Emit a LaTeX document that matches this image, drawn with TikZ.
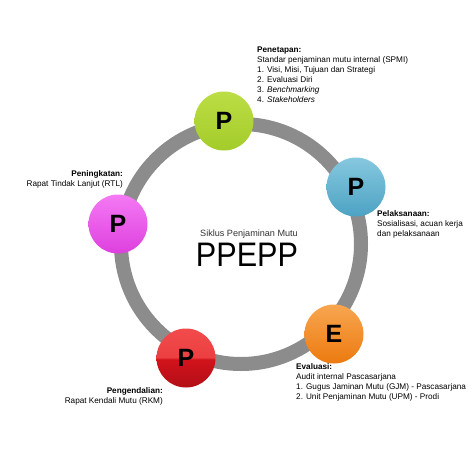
\documentclass[tikz,border=0pt]{standalone}
\usepackage{fontspec}
\setmainfont{Liberation Sans}
\definecolor{ringgray}{HTML}{8C8C8C}
\definecolor{gtop}{HTML}{BCDD45}\definecolor{gbot}{HTML}{A3CC2A}
\definecolor{btop}{HTML}{86C8DF}\definecolor{bbot}{HTML}{4DA2C3}
\definecolor{otop}{HTML}{F8A650}\definecolor{obot}{HTML}{EC7A10}
\definecolor{rtop}{HTML}{F24B4B}\definecolor{rbot}{HTML}{D2121B}
\definecolor{mtop}{HTML}{F47AF4}\definecolor{mbot}{HTML}{DE3FDE}
\pgfdeclareverticalshading{redgloss}{100bp}{color(0bp)=(rbot!85!black); color(25bp)=(rbot!85!black); color(49bp)=(rbot); color(50.5bp)=(rtop!80!rbot); color(75bp)=(rtop); color(100bp)=(rtop)}
\begin{document}
\begin{tikzpicture}[x=1pt,y=-1pt,
  lbl/.style={inner sep=0pt,font=\fontsize{8.2}{10}\selectfont,text=black},
  ball/.style={circle,minimum size=59pt,inner sep=0pt,font=\fontsize{25}{25}\selectfont\bfseries},
]
\useasboundingbox[fill=white] (0,0) rectangle (474,474);
\coordinate (c) at (241,244);
\draw[ringgray,line width=14pt] (c) circle[radius=120];
% balls
\node[ball,top color=gtop,bottom color=gbot] (pen) at (224,121) {P};
\node[ball,top color=btop,bottom color=bbot] (pel) at (356,187) {P};
\node[ball,top color=otop,bottom color=obot] (eva) at (334,334) {E};
\node[ball,shading=redgloss] (peng) at (186,358) {P};
\node[ball,top color=mtop,bottom color=mbot] (peni) at (118,224) {P};
% centre
\node[inner sep=0pt,anchor=base,font=\fontsize{9.1}{10}\selectfont,text=black!80] (sik) at (249,236) {Siklus Penjaminan Mutu};
\node[inner sep=0pt,anchor=base,font=\fontsize{34}{34}\selectfont] (ppepp) at (247,266) {\scalebox{0.9}[1]{PPEPP}};
% labels
\node[lbl,anchor=north west,align=left] (tpen) at (257,47) {\textbf{Penetapan:}\\Standar penjaminan mutu internal (SPMI)\\1. Visi, Misi, Tujuan dan Strategi\\2. Evaluasi Diri\\3. \textit{Benchmarking}\\4. \textit{Stakeholders}};
\node[lbl,anchor=north west,align=left] (tpel) at (377,210.5) {\textbf{Pelaksanaan:}\\Sosialisasi, acuan kerja\\dan pelaksanaan};
\node[lbl,anchor=north east,align=right] (tpeni) at (123,170.5) {\textbf{Peningkatan:}\\Rapat Tindak Lanjut (RTL)};
\node[lbl,anchor=north east,align=right] (tpeng) at (163,387.5) {\textbf{Pengendalian:}\\Rapat Kendali Mutu (RKM)};
\node[lbl,anchor=north west,align=left] (teva) at (296,363.5) {\textbf{Evaluasi:}\\Audit internal Pascasarjana\\1. Gugus Jaminan Mutu (GJM) - Pascasarjana\\2. Unit Penjaminan Mutu (UPM) - Prodi};
\end{tikzpicture}
\end{document}
